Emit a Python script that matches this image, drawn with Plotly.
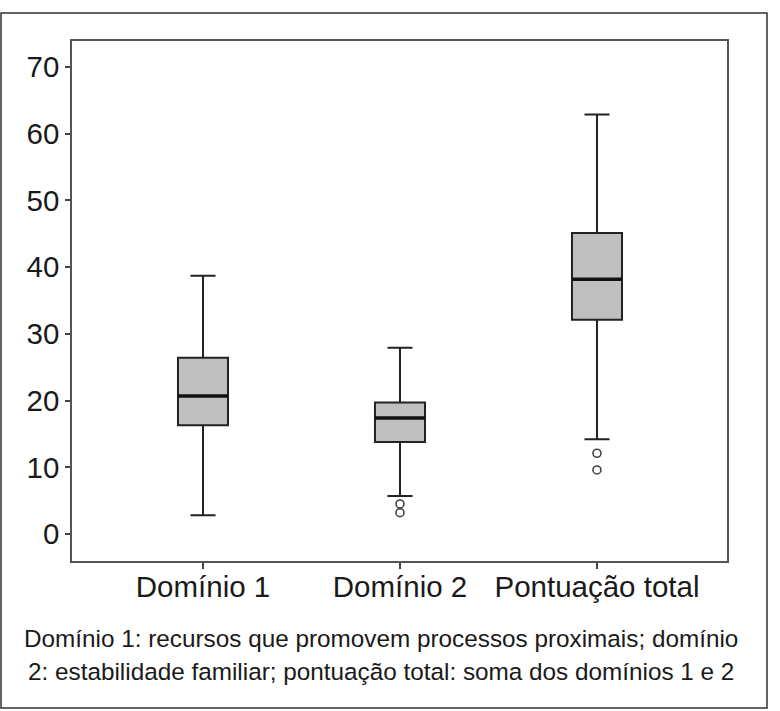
import plotly.graph_objects as go

categories = ["Domínio 1", "Domínio 2", "Pontuação total"]
lower_whisker = [2.8, 5.7, 14.2]
q1_values = [16.3, 13.8, 32.1]
median_values = [20.7, 17.4, 38.2]
q3_values = [26.4, 19.7, 45.1]
upper_whisker = [38.7, 27.9, 62.9]
outlier_cat = [1, 1, 2, 2]
outlier_values = [4.5, 3.2, 12.1, 9.6]
y_ticks = [0, 10, 20, 30, 40, 50, 60, 70]
caption_lines = [
    "Domínio 1: recursos que promovem processos proximais; domínio",
    "2: estabilidade familiar; pontuação total: soma dos domínios 1 e 2",
]

FONT = "Liberation Sans, Arial, sans-serif"
BOX_W = 0.254
xpos = list(range(len(categories)))

fig = go.Figure()
fig.add_trace(go.Box(
    x=xpos, q1=q1_values, median=median_values, q3=q3_values,
    lowerfence=lower_whisker, upperfence=upper_whisker,
    width=BOX_W, whiskerwidth=0.5,
    fillcolor="#bfbfbf", line=dict(color="#222222", width=2),
    boxpoints=False, showlegend=False, hoverinfo="skip",
))
for i, m in enumerate(median_values):
    fig.add_trace(go.Scatter(
        x=[xpos[i] - BOX_W / 2, xpos[i] + BOX_W / 2], y=[m, m],
        mode="lines", line=dict(color="#111111", width=3.5),
        showlegend=False, hoverinfo="skip",
    ))
fig.add_trace(go.Scatter(
    x=outlier_cat, y=outlier_values, mode="markers",
    marker=dict(symbol="circle-open", size=8, color="#444444", line=dict(width=1.6)),
    showlegend=False, hoverinfo="skip",
))

fig.update_layout(
    width=780, height=711,
    margin=dict(l=72, r=53, t=41, b=150),
    paper_bgcolor="white", plot_bgcolor="white",
    font=dict(family=FONT, color="#1a1a1a"),
    xaxis=dict(
        range=[-0.665, 2.66], tickvals=xpos, ticktext=categories,
        ticks="outside", ticklen=6, tickcolor="#444", tickwidth=1.5,
        ticklabelstandoff=-7,
        showline=True, linecolor="#555", linewidth=1.5, mirror=True,
        showgrid=False, zeroline=False, tickfont=dict(size=29.5, family=FONT, color="#1a1a1a"),
    ),
    yaxis=dict(
        range=[-4.05, 73.9], tickvals=y_ticks,
        ticks="outside", ticklen=5, tickcolor="#444", tickwidth=1.5,
        showline=True, linecolor="#555", linewidth=1.5, mirror=True,
        showgrid=False, zeroline=False, tickfont=dict(size=29.5, family=FONT, color="#1a1a1a"),
    ),
    shapes=[dict(
        type="rect", xref="paper", yref="paper",
        x0=(1 - 72) / 655, x1=(767 - 72) / 655,
        y0=(561 - 708) / 520, y1=(561 - 13) / 520,
        line=dict(color="#333", width=1.5), fillcolor="rgba(0,0,0,0)", layer="below",
    )],
)
for j, line in enumerate(caption_lines):
    fig.add_annotation(
        text=line, xref="paper", yref="paper",
        x=(381 - 72) / 655, y=(561 - (638 + 33 * j)) / 520,
        xanchor="center", yanchor="middle", showarrow=False,
        font=dict(size=24.3, family=FONT, color="#1a1a1a"),
    )

fig.write_html(
    "out.html",
    config={"displayModeBar": False},
    post_script="document.body.style.margin='0';document.body.style.overflow='hidden';",
)
